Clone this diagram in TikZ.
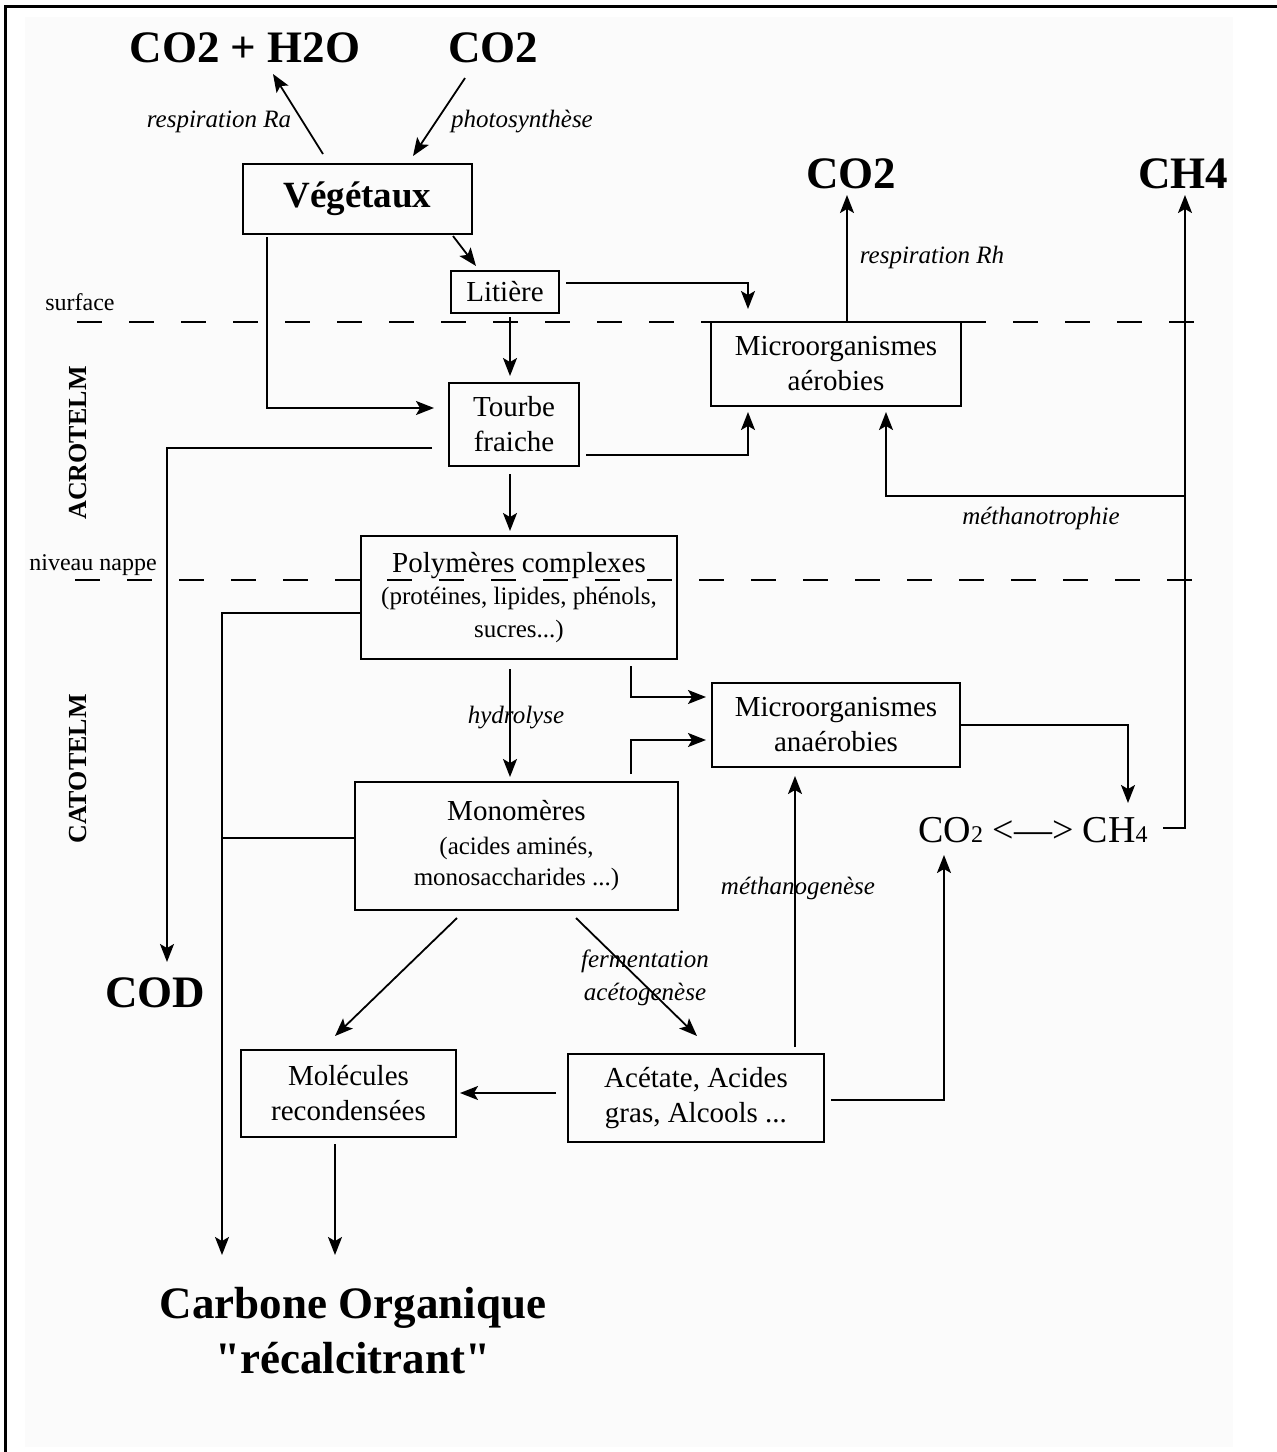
\documentclass[tikz,border=0pt]{standalone}
\usepackage{fontspec}
\setmainfont{Liberation Serif}
\newfontfamily\plainqfont{Liberation Serif}
\usetikzlibrary{arrows.meta}
\definecolor{bgpale}{HTML}{FBFBFB}
\tikzset{
 box/.style={draw, line width=2pt, align=center, inner sep=0pt, font=\fontsize{29}{35}\selectfont},
 arr/.style={line width=1.8pt, -{Stealth[length=18pt,width=14pt,inset=4pt]}},
 ln/.style={line width=1.8pt},
 lbl/.style={font=\fontsize{25}{33}\selectfont\itshape, inner sep=0pt, align=center},
 big/.style={font=\fontsize{45}{55}\selectfont\bfseries, inner sep=0pt},
 side/.style={font=\fontsize{24}{28}\selectfont, inner sep=0pt},
 zone/.style={font=\fontsize{26}{30}\selectfont\bfseries, rotate=90, inner sep=0pt},
 sepline/.style={line width=2pt, dash pattern=on 25pt off 27pt},
}
\begin{document}
\begin{tikzpicture}[x=1pt,y=-1pt]
\useasboundingbox (0,0) rectangle (1277,1452);
\fill[white] (0,0) rectangle (1277,1452);
\fill[bgpale] (25,17) rectangle (1233,1447);
\draw[line width=3pt] (5,1452) -- (5,6) -- (1277,6);

% separators
\draw[sepline] (77,322) -- (1197,322);
\draw[sepline] (75,580) -- (1197,580);

% side labels
\node[side] (surf) at (80,302) {surface};
\node[side] (nappe) at (93,565) {niveau nappe};
\node[zone] (acro) at (78,443) {ACROTELM};
\node[zone] (cato) at (78,769) {CATOTELM};

% big texts
\node[big, anchor=base] (co2h2o) at (245,62) {CO2 + H2O};
\node[big, anchor=base] (co2a) at (493,62) {CO2};
\node[big, anchor=base] (co2b) at (851,188) {CO2};
\node[big, anchor=base] (ch4) at (1183,188) {CH4};
\node[big, anchor=base] (cod) at (155,1007) {COD};
\node[big, anchor=base] (carb1) at (353,1318) {Carbone Organique};
\node[big, anchor=base] (carb2) at (353,1373) {\plainqfont\bfseries "récalcitrant"};
\node[font=\fontsize{38}{44}\selectfont, inner sep=0pt, anchor=base] (equil) at (1033,842)
  {CO{\fontsize{24}{24}\selectfont 2} <—> CH{\fontsize{24}{24}\selectfont 4}};

% boxes
\node[box, minimum width=229pt, minimum height=70pt, font=\fontsize{37}{44}\selectfont\bfseries] (veg) at (357.5,199) {Végétaux};
\node[box, minimum width=108pt, minimum height=42pt] (lit) at (505,292) {Litière};
\node[box, minimum width=130pt, minimum height=83pt] (tourbe) at (514,424.5) {Tourbe\\fraiche};
\node[box, minimum width=250pt, minimum height=84pt] (aer) at (836,364) {Microorganismes\\aérobies};
\node[box, minimum width=316pt, minimum height=123pt, font=\fontsize{25}{32.5}\selectfont] (poly) at (519,597.5)
  {{\fontsize{29}{32.5}\selectfont Polymères complexes}\\(protéines, lipides, phénols,\\sucres...)};
\node[box, minimum width=248pt, minimum height=84pt] (ana) at (836,725) {Microorganismes\\anaérobies};
\node[box, minimum width=323pt, minimum height=128pt, font=\fontsize{25}{31}\selectfont] (mono) at (516.5,846)
  {{\fontsize{29}{31}\selectfont Monomères}\\[3pt](acides aminés,\\monosaccharides ...)};
\node[box, minimum width=215pt, minimum height=87pt] (mol) at (348.5,1093.5) {Molécules\\recondensées};
\node[box, minimum width=256pt, minimum height=88pt] (acet) at (696,1098) {Acétate, Acides\\gras, Alcools ...};

% italic labels
\node[lbl] (ratext) at (219,122) {respiration Ra};
\node[lbl] (phtext) at (522,122) {photosynthèse};
\node[lbl] (rhtext) at (932,257) {respiration Rh};
\node[lbl] (mttext) at (1041,518) {méthanotrophie};
\node[lbl] (hytext) at (516,718) {hydrolyse};
\node[lbl] (fermtext) at (645,978) {fermentation\\acétogenèse};
\node[lbl] (mgtext) at (798,888) {méthanogenèse};

% coordinates
\coordinate (cleft) at (222,613);
\coordinate (monoL) at ([yshift=8pt]mono.west);
\coordinate (mt) at (1185,496);

% connectors
\draw[arr] ([xshift=-34.5pt,yshift=9pt]veg.north) -- ([xshift=28pt,yshift=-12pt]co2h2o.base);
\draw[arr] ([xshift=-28pt,yshift=-16pt]co2a.base) -- ([xshift=55.5pt,yshift=7pt]veg.north);
\draw[arr] ([xshift=95.5pt,yshift=-1pt]veg.south) -- ([xshift=-29pt,yshift=4pt]lit.north);
\draw[arr] ([xshift=-90.5pt,yshift=-2pt]veg.south) |- ([xshift=-14pt,yshift=16.5pt]tourbe.west);
\draw[arr] ([xshift=5pt,yshift=-3pt]lit.south) -- ([xshift=-4pt,yshift=6pt]tourbe.north);
\draw[arr] ([xshift=6pt,yshift=9pt]lit.east) -| ([xshift=-88pt,yshift=12pt]aer.north);
\draw[arr] ([xshift=6pt,yshift=-30.5pt]tourbe.east) -| ([xshift=-88pt,yshift=-5pt]aer.south);
\draw[arr] ([xshift=11pt]aer.north) -- ([xshift=-4pt,yshift=-7pt]co2b.base);
\draw[arr] ([xshift=-16pt,yshift=-23.5pt]tourbe.west) -| ([xshift=12pt,yshift=45pt]cod.base);
\draw[arr] ([xshift=-4pt,yshift=-7pt]tourbe.south) -- ([xshift=-9pt,yshift=4pt]poly.north);
\draw[arr] ([yshift=-15.5pt]poly.west) -- (cleft) -- ([xshift=-131pt,yshift=63pt]carb1.base);
\draw[ln] (monoL) -- (monoL -| cleft);
\draw[arr] ([xshift=-9pt,yshift=-9pt]poly.south) -- ([xshift=-6.5pt,yshift=4pt]mono.north);
\draw[arr] ([xshift=112pt,yshift=-6pt]poly.south) |- ([xshift=-5pt,yshift=28pt]ana.west);
\draw[arr] ([xshift=114.5pt,yshift=7pt]mono.north) |- ([xshift=-5pt,yshift=-15pt]ana.west);
\draw[arr] (ana.east) -| ([xshift=95pt,yshift=39pt]equil.base);
\draw[arr] ([xshift=130pt,yshift=14pt]equil.base) -| ([xshift=2pt,yshift=-7pt]ch4.base);
\draw[arr] (mt) -| ([xshift=50pt,yshift=-5pt]aer.south);
\draw[arr] ([xshift=-59.5pt,yshift=-7pt]mono.south) -- ([xshift=-13.5pt,yshift=13pt]mol.north);
\draw[arr] ([xshift=59.5pt,yshift=-7pt]mono.south) -- ([xshift=1pt,yshift=17pt]acet.north);
\draw[arr] ([xshift=-11pt,yshift=5pt]acet.west) -- ([xshift=3pt,yshift=0.5pt]mol.east);
\draw[arr] ([xshift=6pt,yshift=-2pt]acet.east) -| ([xshift=-89pt,yshift=-13pt]equil.base);
\draw[arr] ([xshift=99pt,yshift=6pt]acet.north) -- ([xshift=-41pt,yshift=-8pt]ana.south);
\draw[arr] ([xshift=-13.5pt,yshift=-6pt]mol.south) -- ([xshift=-18pt,yshift=63pt]carb1.base);
\end{tikzpicture}
\end{document}
